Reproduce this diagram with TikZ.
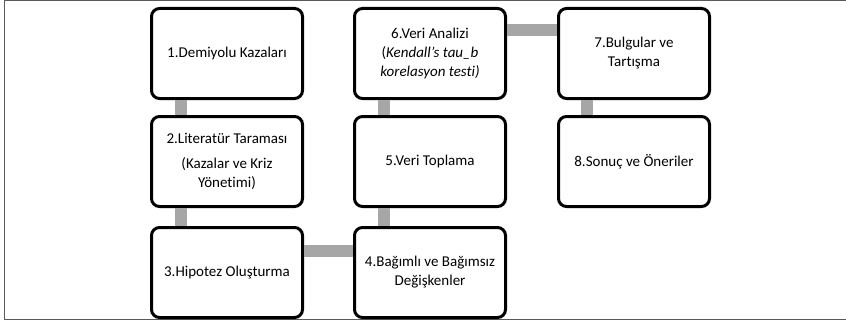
\documentclass[tikz,border=0pt]{standalone}
\usepackage{fontspec}
\setmainfont{Carlito}[Ligatures=NoCommon]
\usetikzlibrary{positioning}
\definecolor{linkgray}{RGB}{166,166,166}
\definecolor{framegray}{RGB}{89,89,89}

\begin{document}
\begin{tikzpicture}[x=1pt,y=1pt,node distance=15pt and 49pt,
  every node/.style={align=center,font=\fontsize{15}{19}\selectfont,inner sep=2pt},
  box/.style={draw=black,fill=white,line width=3pt,rounded corners=8pt,minimum width=151pt,minimum height=90pt},
  link/.style={draw=linkgray,line width=12pt}]
  \useasboundingbox (0,0) rectangle (846,322);
  \draw[framegray,line width=1.5pt] (4.5,2.5) rectangle (850,321.5);
  \node[box] (b1) at (227,268.5) {1.Demiyolu Kazaları};
  \node[box,below=of b1] (b2) {2.Literatür Taraması\\[6pt](Kazalar ve Kriz\\Yönetimi)};
  \node[box,below=18pt of b2] (b3) {3.Hipotez Oluşturma};
  \node[box,right=of b3] (b4) {4.Bağımlı ve Bağımsız\\Değişkenler};
  \node[box,above=18pt of b4] (b5) {5.Veri Toplama};
  \node[box,above=of b5] (b6) {6.Veri Analizi\\(\textit{Kendall’s tau\_b}\\\textit{korelasyon testi)}};
  \node[box,right=50pt of b6] (b7) {7.Bulgular ve\\Tartışma};
  \node[box,below=of b7] (b8) {8.Sonuç ve Öneriler};
  \draw[link] ([xshift=-46pt]b1.south) -- ([xshift=-46pt]b2.north);
  \draw[link] ([xshift=-46pt]b2.south) -- ([xshift=-46pt]b3.north);
  \draw[link] ([yshift=22pt]b3.east) -- ([yshift=22pt]b4.west);
  \draw[link] ([xshift=-46pt]b4.north) -- ([xshift=-46pt]b5.south);
  \draw[link] ([xshift=-46pt]b5.north) -- ([xshift=-46pt]b6.south);
  \draw[link] ([yshift=23pt]b6.east) -- ([yshift=23pt]b7.west);
  \draw[link] ([xshift=-47pt]b7.south) -- ([xshift=-47pt]b8.north);
\end{tikzpicture}
\end{document}
